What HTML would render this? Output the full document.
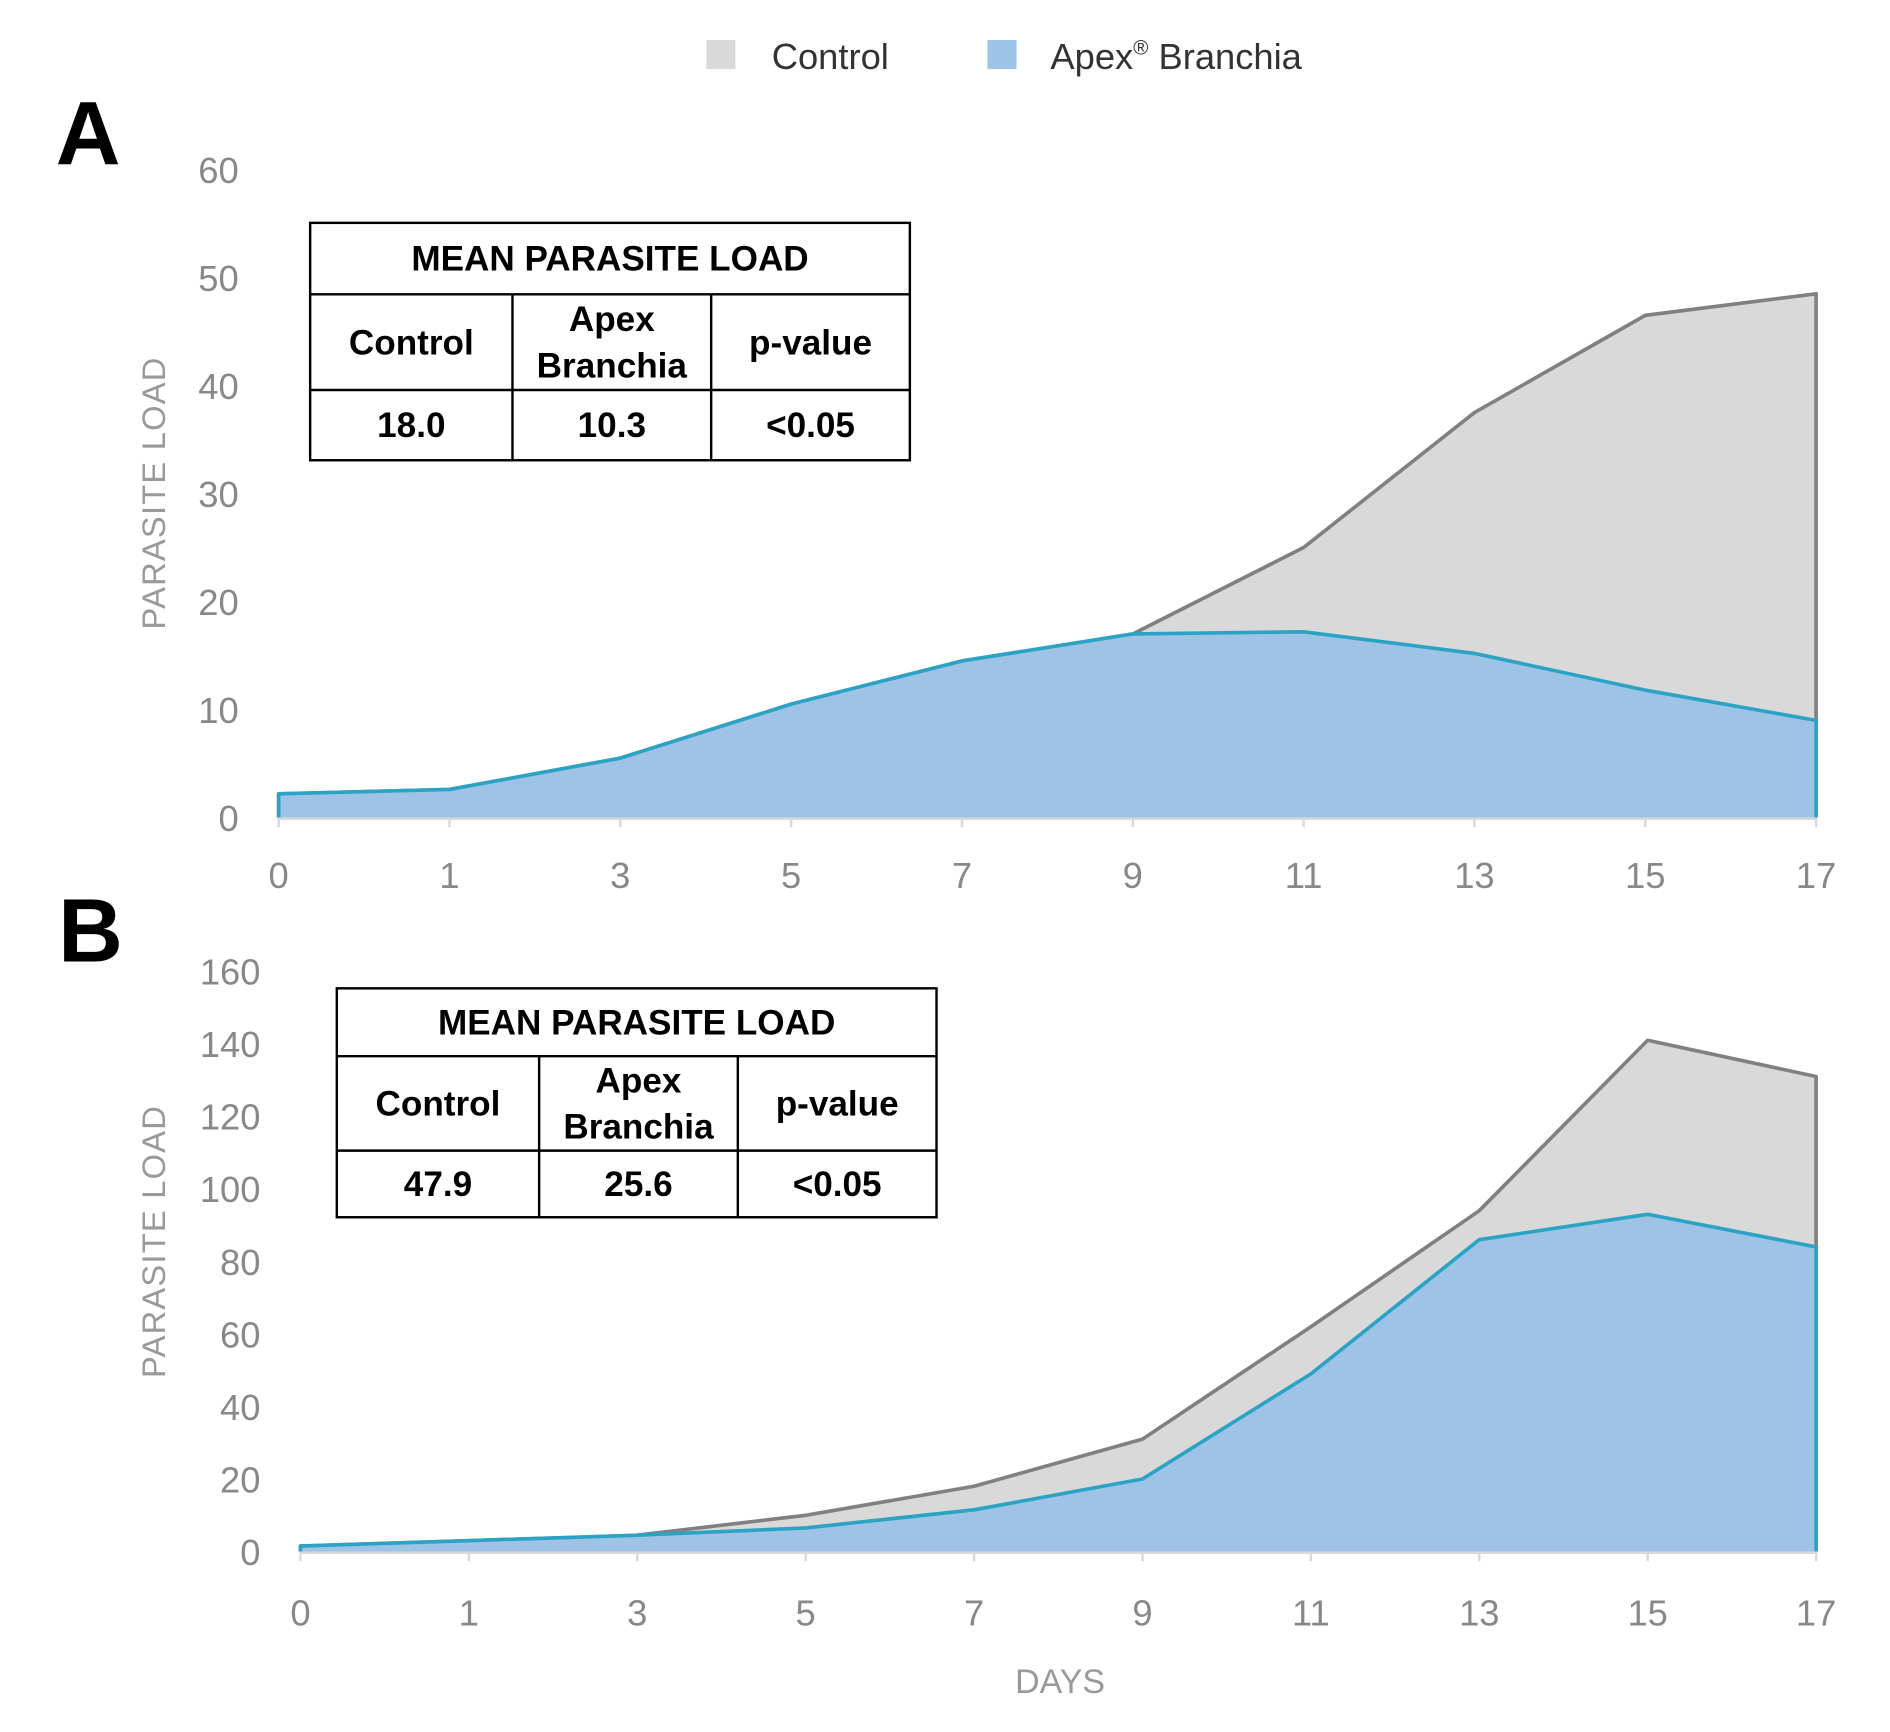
<!DOCTYPE html>
<html><head><meta charset="utf-8"><style>
html,body{margin:0;padding:0;background:#fff}
svg{display:block}
text{font-family:"Liberation Sans",sans-serif}
</style></head><body>
<svg id="chart" width="1890" height="1732" viewBox="0 0 1560 1430" preserveAspectRatio="none">
<g>
<rect x="583" y="33" width="24" height="24" fill="#d9d9d9"/>
<text x="637" y="57" font-size="30" fill="#333">Control</text>
<rect x="815" y="33" width="24" height="24" fill="#9dc3e6"/>
<text x="867" y="57" font-size="30" fill="#333">Apex<tspan font-size="17" dy="-12">®</tspan><tspan dy="12"> Branchia</tspan></text>
</g>
<text x="46" y="136" font-size="74" font-weight="bold" fill="#000">A</text>
<text x="48" y="794" font-size="74" font-weight="bold" fill="#000">B</text>
<text x="875" y="1398" font-size="28" fill="#999" text-anchor="middle">DAYS</text>
<g id="panelA"></g>
<g id="panelB"></g>
</svg>
<script>
const categories = ["0","1","3","5","7","9","11","13","15","17"];
const controlA = [2.2, 2.6, 5.5, 10.5, 14.5, 17, 25, 37.5, 46.5, 48.5];
const apexA = [2.2, 2.6, 5.5, 10.5, 14.5, 17, 17.2, 15.2, 11.8, 9.0];
const ticksA = [0, 10, 20, 30, 40, 50, 60];
const controlB = [1.5, 3, 4.5, 10, 18, 31, 62, 94, 141, 131];
const apexB = [1.5, 3, 4.5, 6.5, 11.5, 20, 49, 86, 93, 84];
const ticksB = [0, 20, 40, 60, 80, 100, 120, 140, 160];
const tableA = ["18.0", "10.3", "<0.05"];
const tableB = ["47.9", "25.6", "<0.05"];

const NS = "http://www.w3.org/2000/svg";
function mk(parent, tag, attrs, txt) {
  const e = document.createElementNS(NS, tag);
  for (const k in attrs) e.setAttribute(k, attrs[k]);
  if (txt !== undefined) e.textContent = txt;
  parent.appendChild(e);
  return e;
}
function panel(g, cfg) {
  const n = categories.length;
  const xs = i => cfg.x0 + (cfg.x1 - cfg.x0) * i / (n - 1);
  const ys = v => cfg.y0 - (cfg.y0 - cfg.yTop) * v / cfg.max;
  // y ticks
  cfg.ticks.forEach(t => {
    const e = mk(g, "text", {x: cfg.lblX, y: ys(t) + 11, "font-size": 30, fill: "#888", "text-anchor": "end"}, String(t));
    
    
  });
  const yt = mk(g, "text", {x: 0, y: 0, "font-size": 27, fill: "#999", "text-anchor": "middle", "letter-spacing": "1", transform: `translate(136 ${cfg.titleY}) rotate(-90)`}, "PARASITE LOAD");
  
  
  function area(vals, fill, stroke, name) {
    let d = `M${xs(0)},${cfg.y0}`;
    vals.forEach((v, i) => d += ` L${xs(i)},${ys(v)}`);
    d += ` L${xs(n - 1)},${cfg.y0} Z`;
    const a = mk(g, "path", {d: d, fill: fill});
    
    
    let l = `M${xs(0)},${cfg.y0}`;
    vals.forEach((v, i) => l += ` L${xs(i)},${ys(v)}`);
    l += ` L${xs(n - 1)},${cfg.y0}`;
    const p = mk(g, "path", {d: l, fill: "none", stroke: stroke, "stroke-width": 3, "stroke-linejoin": "round"});
    
    
  }
  area(cfg.control, "#d9d9d9", "#808080", "control");
  area(cfg.apex, "#9fc3e6", "#2ba3c4", "apex");
  const ax = mk(g, "line", {x1: cfg.x0, x2: cfg.x1, y1: cfg.y0 + 1, y2: cfg.y0 + 1, stroke: "#d9d9d9", "stroke-width": 2});
  
  
  categories.forEach((c, i) => {
    const tk = mk(g, "line", {x1: xs(i), x2: xs(i), y1: cfg.y0, y2: cfg.y0 + 8, stroke: "#d9d9d9", "stroke-width": 2});
    
    
    const t = mk(g, "text", {x: xs(i), y: cfg.xLblY, "font-size": 30, fill: "#888", "text-anchor": "middle"}, c);
    
    
  });
  // table
  const T = cfg.tbl;
  const tg = mk(g, "g", {});
  
  
  mk(tg, "rect", {x: T.x, y: T.y, width: T.w, height: T.h, fill: "#fff", stroke: "#000", "stroke-width": 2});
  mk(tg, "line", {x1: T.x, x2: T.x + T.w, y1: T.r1, y2: T.r1, stroke: "#000", "stroke-width": 2});
  mk(tg, "line", {x1: T.x, x2: T.x + T.w, y1: T.r2, y2: T.r2, stroke: "#000", "stroke-width": 2});
  mk(tg, "line", {x1: T.c1, x2: T.c1, y1: T.r1, y2: T.y + T.h, stroke: "#000", "stroke-width": 2});
  mk(tg, "line", {x1: T.c2, x2: T.c2, y1: T.r1, y2: T.y + T.h, stroke: "#000", "stroke-width": 2});
  const fs = {"font-size": 29, "font-weight": "bold", fill: "#000", "text-anchor": "middle"};
  mk(tg, "text", Object.assign({x: T.x + T.w / 2, y: (T.y + T.r1) / 2 + 10}, fs), "MEAN  PARASITE  LOAD");
  const cx = [(T.x + T.c1) / 2, (T.c1 + T.c2) / 2, (T.c2 + T.x + T.w) / 2];
  const my = (T.r1 + T.r2) / 2;
  mk(tg, "text", Object.assign({x: cx[0], y: my + 10}, fs), "Control");
  mk(tg, "text", Object.assign({x: cx[1], y: my - 9}, fs), "Apex");
  mk(tg, "text", Object.assign({x: cx[1], y: my + 29}, fs), "Branchia");
  mk(tg, "text", Object.assign({x: cx[2], y: my + 10}, fs), "p-value");
  const vy = (T.r2 + T.y + T.h) / 2 + 10;
  cfg.vals.forEach((v, i) => mk(tg, "text", Object.assign({x: cx[i], y: vy}, fs), v));
}
panel(document.getElementById("panelA"), {x0: 230, x1: 1499, y0: 675, yTop: 140, max: 60, ticks: ticksA, control: controlA, apex: apexA, lblX: 197, titleY: 407, xLblY: 733,
  tbl: {x: 256, y: 184, w: 495, h: 196, r1: 243, r2: 322, c1: 423, c2: 587}, vals: tableA});
panel(document.getElementById("panelB"), {x0: 248, x1: 1499, y0: 1281, yTop: 802, max: 160, ticks: ticksB, control: controlB, apex: apexB, lblX: 215, titleY: 1025, xLblY: 1342,
  tbl: {x: 278, y: 816, w: 495, h: 189, r1: 872, r2: 950, c1: 445, c2: 609}, vals: tableB});
</script>
</body></html>
